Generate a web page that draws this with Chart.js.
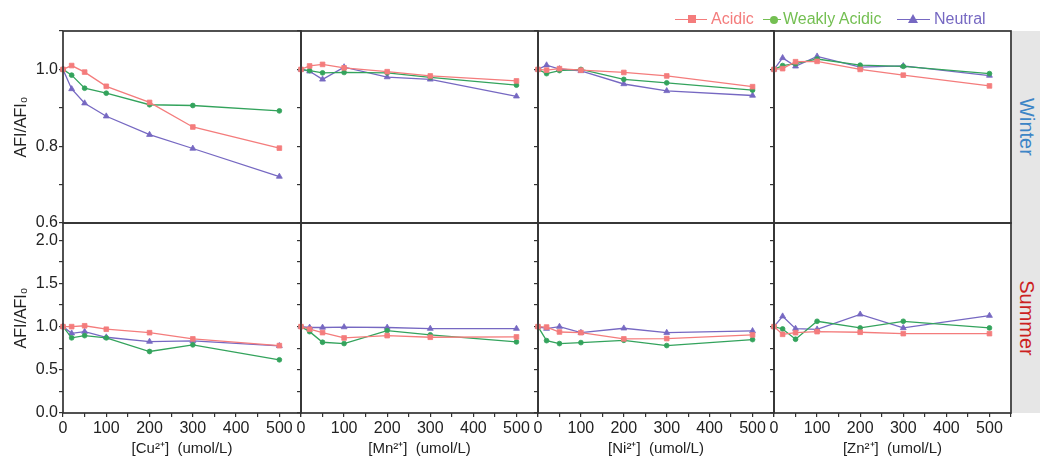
<!DOCTYPE html>
<html><head><meta charset="utf-8">
<script src="https://cdn.jsdelivr.net/npm/chart.js@4/dist/chart.umd.min.js"></script>
<style>
body{margin:0;background:#fff;}
#wrap{position:relative;width:1040px;height:459px;overflow:hidden;font-family:"Liberation Sans",Arial,sans-serif;}
#wrap canvas{position:absolute;left:0;top:0;}
.strip{position:absolute;left:1012px;width:28px;background:#e6e6e6;}
.strip span{position:absolute;left:50%;top:50%;transform:translate(-50%,-50%) rotate(90deg);font-size:20px;white-space:nowrap;}
.lg{position:absolute;font-size:16px;line-height:16px;top:11px;white-space:nowrap;}
.ll{position:absolute;height:0;top:19px;border-top:1.5px solid;}
.mk{position:absolute;}
</style>
</head><body>
<div id="wrap"></div>
<script>
// ---- data ----
const concentrations = [0, 20, 50, 100, 200, 300, 500];
const seriesNames = ['Acidic', 'Weakly Acidic', 'Neutral'];
const seasons = ['Winter', 'Summer'];
const ions = ['[Cu\u00B2\u207A]  (umol/L)', '[Mn\u00B2\u207A]  (umol/L)', '[Ni\u00B2\u207A]  (umol/L)', '[Zn\u00B2\u207A]  (umol/L)'];
const winterYTicks = [0.6, 0.8, 1.0];
const summerYTicks = [0.0, 0.5, 1.0, 1.5, 2.0];
const xTickLabels = [0, 100, 200, 300, 400, 500];

// Winter
const cuWinterAcidic  = [1.0, 1.010, 0.993, 0.956, 0.914, 0.850, 0.795];
const cuWinterWeakly  = [1.0, 0.985, 0.951, 0.938, 0.908, 0.906, 0.892];
const cuWinterNeutral = [1.0, 0.949, 0.912, 0.878, 0.830, 0.794, 0.721];
const mnWinterAcidic  = [1.0, 1.009, 1.013, 1.004, 0.994, 0.983, 0.970];
const mnWinterWeakly  = [1.0, 0.997, 0.991, 0.992, 0.991, 0.979, 0.959];
const mnWinterNeutral = [1.0, 0.995, 0.974, 1.006, 0.980, 0.974, 0.930];
const niWinterAcidic  = [1.0, 0.998, 1.002, 0.998, 0.992, 0.983, 0.955];
const niWinterWeakly  = [1.0, 0.989, 0.997, 1.000, 0.974, 0.965, 0.946];
const niWinterNeutral = [1.0, 1.011, 1.001, 0.996, 0.962, 0.944, 0.932];
const znWinterAcidic  = [1.0, 1.002, 1.020, 1.021, 1.000, 0.985, 0.957];
const znWinterWeakly  = [1.0, 1.010, 1.015, 1.027, 1.011, 1.008, 0.989];
const znWinterNeutral = [1.0, 1.030, 1.008, 1.034, 1.006, 1.009, 0.984];
// Summer
const cuSummerAcidic  = [1.0, 1.00, 1.01, 0.97, 0.93, 0.858, 0.78];
const cuSummerWeakly  = [1.0, 0.87, 0.896, 0.87, 0.712, 0.789, 0.616];
const cuSummerNeutral = [1.0, 0.923, 0.942, 0.877, 0.827, 0.835, 0.777];
const mnSummerAcidic  = [1.0, 0.97, 0.931, 0.869, 0.896, 0.877, 0.881];
const mnSummerWeakly  = [1.0, 0.942, 0.819, 0.804, 0.954, 0.905, 0.823];
const mnSummerNeutral = [1.0, 0.99, 0.99, 0.995, 0.99, 0.977, 0.977];
const niSummerAcidic  = [1.0, 0.995, 0.938, 0.93, 0.858, 0.862, 0.904];
const niSummerWeakly  = [1.0, 0.838, 0.804, 0.815, 0.842, 0.781, 0.85];
const niSummerNeutral = [1.0, 0.977, 1.0, 0.93, 0.981, 0.93, 0.95];
const znSummerAcidic  = [1.0, 0.911, 0.93, 0.942, 0.935, 0.919, 0.919];
const znSummerWeakly  = [1.0, 0.973, 0.854, 1.062, 0.985, 1.062, 0.985];
const znSummerNeutral = [1.0, 1.12, 0.977, 0.969, 1.142, 0.985, 1.127];

// ---- styling ----
const colors = ['#f47c7c', '#33a35c', '#7668c2'];
const legendColors = ['#f47c7c', '#74bf52', '#7668c2'];
const pointStyles = ['rect', 'circle', 'triangle'];
const pointRadii = [3.3, 2.4, 3.4];
const seasonColors = ['#3d85c6', '#cc1f1f'];

const grid = [
  [[cuWinterAcidic, cuWinterWeakly, cuWinterNeutral], [mnWinterAcidic, mnWinterWeakly, mnWinterNeutral],
   [niWinterAcidic, niWinterWeakly, niWinterNeutral], [znWinterAcidic, znWinterWeakly, znWinterNeutral]],
  [[cuSummerAcidic, cuSummerWeakly, cuSummerNeutral], [mnSummerAcidic, mnSummerWeakly, mnSummerNeutral],
   [niSummerAcidic, niSummerWeakly, niSummerNeutral], [znSummerAcidic, znSummerWeakly, znSummerNeutral]]
];

const W = 1040, H = 459;
const colL = [63, 301, 538, 774], colR = [301, 538, 774, 1011];
const rowT = [31, 223], rowB = [223, 413];
const FONT = '"Liberation Sans", Arial, sans-serif';
const TXT = '#222';
const AX = '#333';

const frame = {
  id: 'frame',
  afterDraw(chart) {
    const a = chart.chartArea, ctx = chart.ctx;
    ctx.save();
    ctx.strokeStyle = AX; ctx.lineWidth = 1.7;
    ctx.strokeRect(a.left, a.top, a.right - a.left, a.bottom - a.top);
    ctx.restore();
  }
};

const wrap = document.getElementById('wrap');
for (let r = 0; r < 2; r++) {
  for (let c = 0; c < 4; c++) {
    const cv = document.createElement('canvas');
    cv.width = W; cv.height = H;
    cv.style.width = W + 'px'; cv.style.height = H + 'px';
    wrap.appendChild(cv);
    const yw = c === 0 ? 63 : 5;
    const xh = r === 1 ? 46 : 0;
    const datasets = grid[r][c].map((vals, i) => ({
      label: seriesNames[i],
      data: concentrations.map((x, k) => ({x, y: vals[k]})),
      borderColor: colors[i], backgroundColor: colors[i],
      borderWidth: 1.3, pointStyle: pointStyles[i], pointRadius: pointRadii[i],
      pointBorderWidth: 0.8, pointHoverRadius: pointRadii[i], clip: false, tension: 0
    }));
    const isWinter = r === 0;
    const majors = isWinter ? winterYTicks : summerYTicks;
    new Chart(cv, {
      type: 'line',
      data: {datasets},
      options: {
        responsive: false, animation: false, events: [],
        devicePixelRatio: 1,
        layout: {padding: {left: colL[c] - yw, right: W - colR[c], top: rowT[r], bottom: H - rowB[r] - xh}},
        plugins: {legend: {display: false}, tooltip: {enabled: false}},
        scales: {
          x: {
            type: 'linear', min: 0, max: 550,
            afterFit: s => { s.height = xh; },
            border: {display: false},
            grid: {display: r === 1, drawOnChartArea: false, tickLength: 4, color: AX, lineWidth: 1.2},
            ticks: {display: r === 1, stepSize: 50, autoSkip: false, maxRotation: 0, padding: 2,
              font: {family: FONT, size: 16}, color: TXT,
              callback: v => xTickLabels.includes(v) ? String(v) : ''},
            title: {display: r === 1, text: ions[c], font: {family: FONT, size: 15}, color: TXT,
              padding: {top: 0, bottom: 1}}
          },
          y: {
            type: 'linear', min: isWinter ? 0.6 : 0, max: isWinter ? 1.1 : 2.2,
            afterFit: s => { s.width = yw; },
            border: {display: false},
            grid: {drawOnChartArea: false, tickLength: 4, color: AX, lineWidth: 1.2},
            ticks: {display: c === 0, stepSize: isWinter ? 0.1 : 0.25, includeBounds: false, autoSkip: false, padding: 1,
              font: {family: FONT, size: 16}, color: TXT,
              callback: v => majors.some(m => Math.abs(m - v) < 1e-6) ? v.toFixed(1) : ''},
            title: {display: c === 0, text: 'AFI/AFI\u2080', font: {family: FONT, size: 16}, color: TXT,
              padding: {top: 12, bottom: 0}}
          }
        }
      },
      plugins: [frame]
    });
  }
}

// strips
for (let r = 0; r < 2; r++) {
  const d = document.createElement('div');
  d.className = 'strip';
  d.style.top = rowT[r] + 'px';
  d.style.height = (rowB[r] - rowT[r]) + 'px';
  const s = document.createElement('span');
  s.textContent = seasons[r];
  s.style.color = seasonColors[r];
  d.appendChild(s);
  wrap.appendChild(d);
}

// legend
const lgPos = [{l0: 675, l1: 707, m: 692, t: 711}, {l0: 763, l1: 781, m: 774, t: 783}, {l0: 897, l1: 930, m: 913, t: 934}];
seriesNames.forEach((name, i) => {
  const p = lgPos[i], col = legendColors[i];
  const ln = document.createElement('div');
  ln.className = 'll';
  ln.style.left = p.l0 + 'px'; ln.style.width = (p.l1 - p.l0) + 'px'; ln.style.borderColor = col;
  wrap.appendChild(ln);
  const mk = document.createElement('div');
  mk.className = 'mk';
  if (i === 0) { Object.assign(mk.style, {left: (p.m - 4) + 'px', top: '15px', width: '8px', height: '8px', background: col}); }
  else if (i === 1) { Object.assign(mk.style, {left: (p.m - 4) + 'px', top: '15.5px', width: '8px', height: '8px', background: col, borderRadius: '50%'}); }
  else { Object.assign(mk.style, {left: (p.m - 5) + 'px', top: '14px', width: 0, height: 0, borderLeft: '5px solid transparent', borderRight: '5px solid transparent', borderBottom: '9px solid ' + col}); }
  wrap.appendChild(mk);
  const t = document.createElement('div');
  t.className = 'lg';
  t.style.left = p.t + 'px'; t.style.color = col;
  t.textContent = name;
  wrap.appendChild(t);
});
</script>
</body></html>
